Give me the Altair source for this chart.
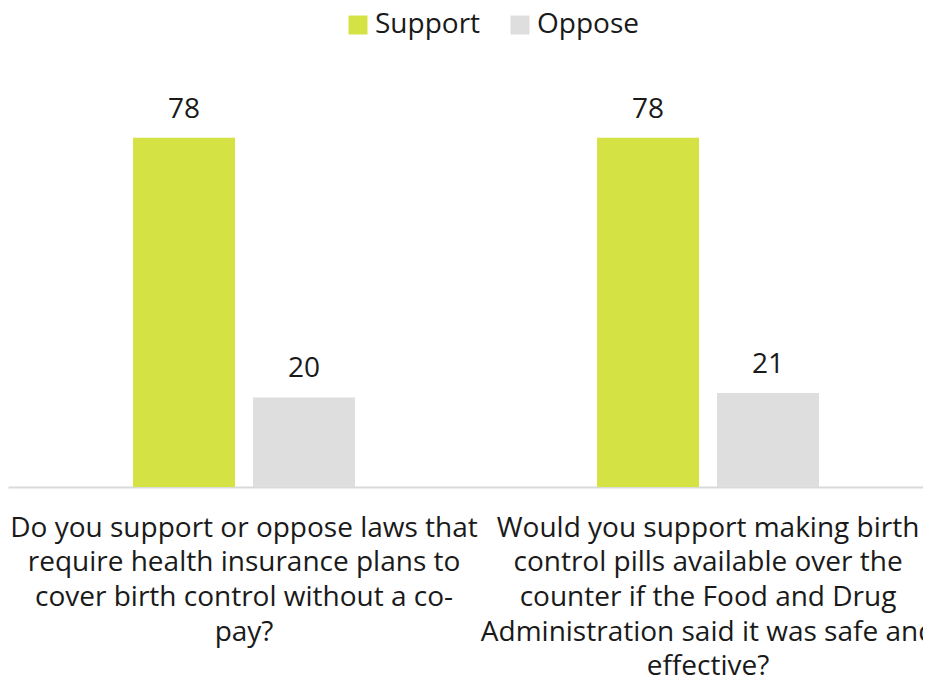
import altair as alt
import pandas as pd

q1_lines = ["Do you support or oppose laws that", "require health insurance plans to",
            "cover birth control without a co-", "pay?"]
q2_lines = ["Would you support making birth", "control pills available over the",
            "counter if the Food and Drug", "Administration said it was safe and", "effective?"]
categories = ["|".join(q1_lines), "|".join(q2_lines)]
series = ["Support", "Oppose"]
support = [78, 78]
oppose = [20, 21]
colors = ["#d4e244", "#dedede"]

rows = []
for i, c in enumerate(categories):
    rows.append({"question": c, "response": "Support", "value": support[i]})
    rows.append({"question": c, "response": "Oppose", "value": oppose[i]})
df = pd.DataFrame(rows)

FONT = "Open Sans"

base = alt.Chart(df).encode(
    x=alt.X("question:N", sort=categories, title=None,
            scale=alt.Scale(paddingInner=0.5216, paddingOuter=0.2468, align=0.546),
            axis=alt.Axis(labelAngle=0, labelExpr="split(datum.label, '|')",
                          labelFont=FONT, labelFontSize=28, labelColor="#1a1a1a",
                          labelLineHeight=34.7, labelPadding=27, labelLimit=0,
                          labelBaseline="top",
                          ticks=False, domainColor="#d9d9d9", domainWidth=2)),
    xOffset=alt.XOffset("response:N", sort=series,
                        scale=alt.Scale(paddingInner=0.15, paddingOuter=0)),
    y=alt.Y("value:Q", scale=alt.Scale(domain=[0, 90]), axis=None),
)

bars = base.mark_bar().encode(
    color=alt.Color("response:N", sort=series,
                    scale=alt.Scale(domain=series, range=colors),
                    legend=alt.Legend(title=None, orient="none", direction="horizontal",
                                      legendX=336, legendY=-73,
                                      symbolType="square", symbolSize=361,
                                      symbolStrokeWidth=0, symbolOpacity=1,
                                      labelFont=FONT, labelFontSize=28,
                                      labelColor="#1a1a1a", labelOffset=3,
                                      columnPadding=25, padding=0))
)

labels = base.mark_text(baseline="bottom", dy=-14, font=FONT, fontSize=28,
                        color="#1a1a1a").encode(text=alt.Text("value:Q"))

chart = (bars + labels).properties(
    width=915, height=403,
    autosize=alt.AutoSizeParams(type="none"),
    padding={"left": 0, "top": 76, "right": 0, "bottom": 192},
).configure_view(stroke=None).configure_axis(grid=False)

chart.save("out.html", embed_options={"renderer": "svg", "actions": False})
